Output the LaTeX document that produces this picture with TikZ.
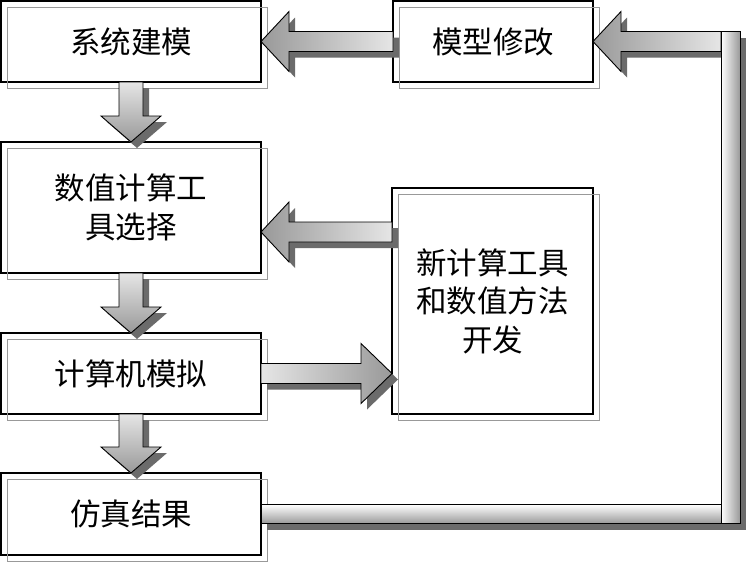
\documentclass[tikz,border=0pt]{standalone}
\usepackage{fontspec}
\newfontfamily\cjk{Noto Sans CJK SC}
\usetikzlibrary{calc}
\newcommand\mydown[2]{\draw[fat, downshade] ([xshift=-12pt]#1.south) -- ([xshift=-12pt,yshift=26pt]#2.north) -- ([xshift=-30pt,yshift=26pt]#2.north) -- (#2.north) -- ([xshift=30pt,yshift=26pt]#2.north) -- ([xshift=12pt,yshift=26pt]#2.north) -- ([xshift=12pt]#1.south) -- cycle;}
\newcommand\myleft[2]{\draw[fat, leftshade] ([yshift=10pt]#1) -- ([xshift=28pt,yshift=10pt]#2) -- ([xshift=28pt,yshift=30pt]#2) -- (#2) -- ([xshift=28pt,yshift=-30pt]#2) -- ([xshift=28pt,yshift=-10pt]#2) -- ([yshift=-10pt]#1) -- cycle;}
\newcommand\myright[2]{\draw[fat, rightshade] ([yshift=10pt]#1) -- ([xshift=-31pt,yshift=10pt]#2) -- ([xshift=-31pt,yshift=30pt]#2) -- (#2) -- ([xshift=-31pt,yshift=-30pt]#2) -- ([xshift=-31pt,yshift=-10pt]#2) -- ([yshift=-10pt]#1) -- cycle;}
\begin{document}
\begin{tikzpicture}[x=1pt,y=-1pt,
  box/.style={draw=black, line width=1.6pt, inner sep=0pt, outer sep=0pt, align=center, font=\cjk\fontsize{30.5}{38.5}\selectfont},
  boxshadow/.style={draw=black!40, line width=0.8pt},
  fat/.style={draw=black, line width=0.9pt, line join=miter, preaction={fill=black!58, transform canvas={shift={(6pt,-6pt)}}}},
  downshade/.style={top color=black!10, bottom color=black!40},
  leftshade/.style={left color=black!40, right color=black!10},
  rightshade/.style={left color=black!10, right color=black!40},
  hshade/.style={top color=white, bottom color=black!40},
  vshade/.style={left color=white, right color=black!40}]
\useasboundingbox (0,0) rectangle (747,562);
\fill[white] (0,0) rectangle (747,562);
% boxes
\node[box, minimum width=260pt, minimum height=81pt] (sys) at (131,41.5) {系统建模};
\node[box, minimum width=260pt, minimum height=131pt] (num) at (131,207.5) {数值计算工\\具选择};
\node[box, minimum width=260pt, minimum height=81pt] (sim) at (131,373.5) {计算机模拟};
\node[box, minimum width=260pt, minimum height=82pt] (res) at (131,514) {仿真结果};
\node[box, minimum width=200pt, minimum height=81pt] (mod) at (493,41.5) {模型修改};
\node[box, minimum width=201pt, minimum height=226pt] (new) at (492.5,301) {新计算工具\\和数值方法\\开发};
\foreach \n in {sys,num,sim,res,mod,new}
  \draw[boxshadow] ([shift={(6pt,-6pt)}]\n.north west) rectangle ([shift={(6pt,-6pt)}]\n.south east);
% helper coordinates
\coordinate (t1) at ([yshift=-24.5pt]num.east);
\coordinate (s1) at (new.west |- t1);
\coordinate (t2) at (new.west |- sim.east);
\coordinate (fb) at (730.5,0);
\coordinate (fbtop) at (fb |- mod.east);
\coordinate (fbbot) at (fb |- res.east);
\coordinate (ptail) at ([xshift=-9.5pt]fbtop);
% down arrows
\mydown{sys}{num}
\mydown{num}{sim}
\mydown{sim}{res}
% horizontal arrows
\myleft{mod.west}{sys.east}
\myleft{s1}{t1}
\myright{sim.east}{t2}
\myleft{ptail}{mod.east}
% feedback pipe
\draw[fat, hshade] ([yshift=9.5pt]res.east) rectangle ([xshift=-9.5pt,yshift=-9.5pt]fbbot);
\draw[fat, vshade] ([xshift=-9.5pt,yshift=10pt]fbtop) rectangle ([xshift=9.5pt,yshift=-9.5pt]fbbot);
\end{tikzpicture}
\end{document}
